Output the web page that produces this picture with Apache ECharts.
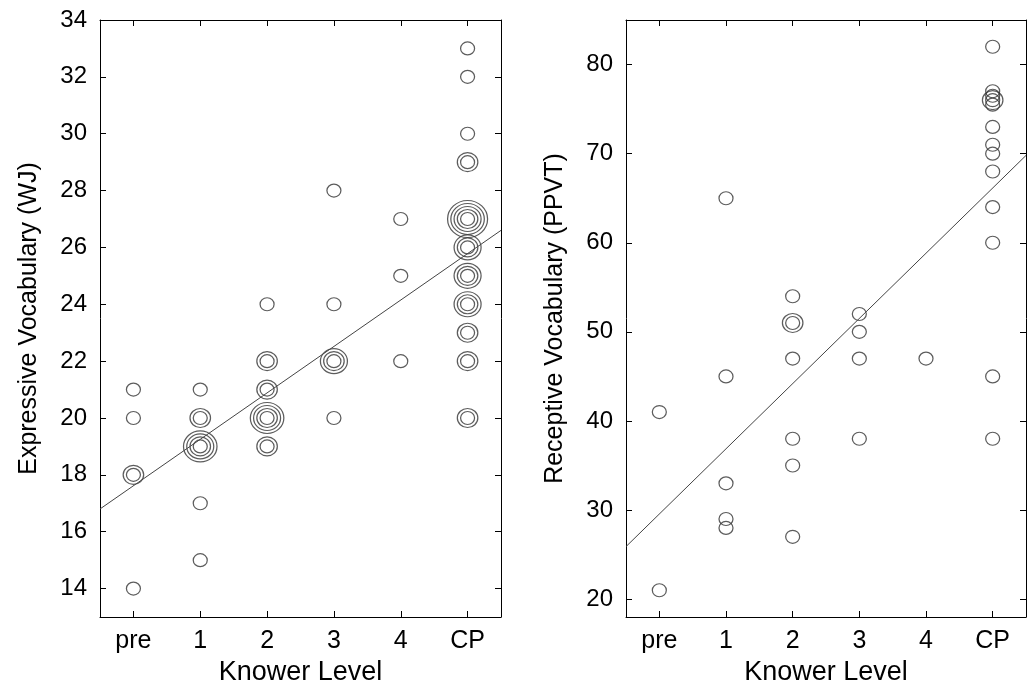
<!DOCTYPE html>
<html>
<head>
<meta charset="utf-8">
<script src="https://cdn.jsdelivr.net/npm/echarts@6/dist/echarts.min.js"></script>
<style>
  html, body { margin: 0; padding: 0; background: #fff; }
  #main { width: 1027px; height: 692px; }
</style>
</head>
<body>
<div id="main"></div>
<script>
// knower levels (x = 0..5)
var levels = ['pre', '1', '2', '3', '4', 'CP'];

// Expressive vocabulary (WJ) scores per knower level
var wjPre = [21, 20, 18, 18, 14];
var wj1   = [21, 20, 20, 19, 19, 19, 19, 17, 15];
var wj2   = [24, 22, 22, 21, 21, 20, 20, 20, 20, 19, 19];
var wj3   = [28, 24, 22, 22, 22, 20];
var wj4   = [27, 25, 22];
var wjCP  = [33, 32, 30, 29, 29, 27, 27, 27, 27, 27, 26, 26, 26, 25, 25, 25, 24, 24, 24, 23, 23, 22, 22, 20, 20];

// Receptive vocabulary (PPVT) scores per knower level
var ppvtPre = [41, 21];
var ppvt1   = [65, 45, 33, 29, 28];
var ppvt2   = [54, 51, 51, 47, 38, 35, 27];
var ppvt3   = [52, 50, 47, 38];
var ppvt4   = [47];
var ppvtCP  = [82, 77, 76.5, 76, 76, 75.5, 73, 71, 70, 68, 64, 60, 45, 38];

// fitted regression lines (end points)
var wjFit   = [[-0.5, 16.8], [5.5, 26.6]];
var ppvtFit = [[-0.5, 25.9], [5.5, 69.8]];

// y tick values
var wjTicks   = [14, 16, 18, 20, 22, 24, 26, 28, 30, 32, 34];
var ppvtTicks = [20, 30, 40, 50, 60, 70, 80];

var wjGroups   = [wjPre, wj1, wj2, wj3, wj4, wjCP];
var ppvtGroups = [ppvtPre, ppvt1, ppvt2, ppvt3, ppvt4, ppvtCP];

var font = 'Liberation Sans, Arial, sans-serif';
var xTicks = [0, 1, 2, 3, 4, 5];

// count repeated points -> one ring per extra point
function ringSeries(groups, axisIdx) {
    var counts = {};
    var maxCount = 1;
    for (var i = 0; i < groups.length; i++) {
        for (var j = 0; j < groups[i].length; j++) {
            var key = i + '|' + groups[i][j];
            counts[key] = (counts[key] || 0) + 1;
            if (counts[key] > maxCount) maxCount = counts[key];
        }
    }
    var list = [];
    for (var r = 0; r < maxCount; r++) {
        var pts = [];
        for (var k in counts) {
            if (counts[k] > r) {
                var p = k.split('|');
                pts.push([+p[0], +p[1]]);
            }
        }
        list.push({
            type: 'scatter',
            xAxisIndex: axisIdx,
            yAxisIndex: axisIdx,
            symbol: 'circle',
            symbolSize: [14 + 6.5 * r, 13 + 6 * r],
            itemStyle: { color: 'rgba(0,0,0,0)', borderColor: '#333', borderWidth: 1.2 },
            emphasis: { disabled: true },
            silent: true,
            data: pts
        });
    }
    return list;
}

function fitSeries(data, axisIdx) {
    return {
        type: 'line',
        xAxisIndex: axisIdx,
        yAxisIndex: axisIdx,
        symbol: 'none',
        silent: true,
        lineStyle: { color: '#444', width: 1 },
        data: data
    };
}

function xAxes(gridIdx) {
    return [{
        type: 'value', gridIndex: gridIdx, position: 'bottom',
        min: -0.5, max: 5.5,
        name: 'Knower Level', nameLocation: 'middle', nameGap: 42,
        nameTextStyle: { fontFamily: font, fontSize: 27, color: '#000' },
        axisLine: { show: true, onZero: false, lineStyle: { color: '#000', width: 1 } },
        axisTick: { show: true, inside: true, length: 6, customValues: xTicks, lineStyle: { color: '#000' } },
        axisLabel: {
            customValues: xTicks, margin: 12, fontFamily: font, fontSize: 25, color: '#000',
            formatter: function (v) { return levels[Math.round(v)]; }
        },
        splitLine: { show: false }
    }, {
        type: 'value', gridIndex: gridIdx, position: 'top',
        min: -0.5, max: 5.5,
        axisLine: { show: true, onZero: false, lineStyle: { color: '#000', width: 1 } },
        axisTick: { show: true, inside: true, length: 6, customValues: xTicks, lineStyle: { color: '#000' } },
        axisLabel: { show: false },
        splitLine: { show: false }
    }];
}

function yAxes(gridIdx, min, max, ticks, name) {
    return [{
        type: 'value', gridIndex: gridIdx, position: 'left',
        min: min, max: max,
        name: name, nameLocation: 'middle', nameGap: 58, nameRotate: 90,
        nameTextStyle: { fontFamily: font, fontSize: 25, color: '#000' },
        axisLine: { show: true, onZero: false, lineStyle: { color: '#000', width: 1 } },
        axisTick: { show: true, inside: true, length: 6, customValues: ticks, lineStyle: { color: '#000' } },
        axisLabel: { customValues: ticks, margin: 13, fontFamily: font, fontSize: 24, color: '#000' },
        splitLine: { show: false }
    }, {
        type: 'value', gridIndex: gridIdx, position: 'right',
        min: min, max: max,
        axisLine: { show: true, onZero: false, lineStyle: { color: '#000', width: 1 } },
        axisTick: { show: true, inside: true, length: 6, customValues: ticks, lineStyle: { color: '#000' } },
        axisLabel: { show: false },
        splitLine: { show: false }
    }];
}

var myChart = echarts.init(document.getElementById('main'));

var series = [];
series = series.concat(ringSeries(wjGroups, 0));
series.push(fitSeries(wjFit, 0));
series = series.concat(ringSeries(ppvtGroups, 2));
series.push(fitSeries(ppvtFit, 2));

var option = {
    backgroundColor: '#fff',
    animation: false,
    grid: [
        { left: 100, top: 20, width: 401, height: 597, outerBoundsMode: 'none' },
        { left: 626, top: 20, width: 400, height: 597, outerBoundsMode: 'none' }
    ],
    xAxis: xAxes(0).concat(xAxes(1)),
    yAxis: yAxes(0, 13, 34, wjTicks, 'Expressive Vocabulary (WJ)')
        .concat(yAxes(1, 18, 85, ppvtTicks, 'Receptive Vocabulary (PPVT)')),
    series: series
};

myChart.setOption(option);
</script>
</body>
</html>
